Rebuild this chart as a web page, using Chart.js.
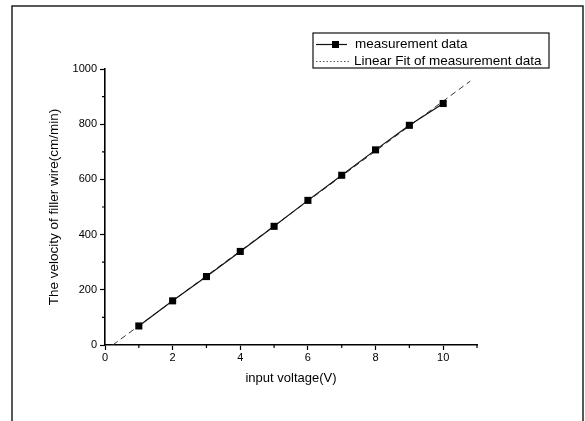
<!DOCTYPE html>
<html>
<head>
<meta charset="utf-8">
<script src="https://cdn.jsdelivr.net/npm/chart.js@4/dist/chart.umd.min.js"></script>
<style>
  html, body { margin: 0; padding: 0; background: #fff; }
  #wrap { width: 585px; height: 421px; }
</style>
</head>
<body>
<div id="wrap"><canvas id="chart" width="585" height="421"></canvas></div>
<script>
const voltage = [1, 2, 3, 4, 5, 6, 7, 8, 9, 10]
const velocity = [69, 160, 248, 339, 430, 524, 615, 707, 796, 875]

// end points of the fitted line
const fitX = [0.23, 10.8]
const fitY = [0, 956]

const xMinorTicks = [1, 3, 5, 7, 9, 11]
const yMinorTicks = [100, 300, 500, 700, 900]

const FONT = '"Liberation Sans", Arial, sans-serif'

const framePlugin = {
  id: 'frame',
  afterDraw(chart) {
    const ctx = chart.ctx
    ctx.save()
    ctx.strokeStyle = '#222'
    ctx.lineWidth = 1.5
    ctx.beginPath()
    ctx.moveTo(12, 421)
    ctx.lineTo(12, 6)
    ctx.lineTo(583, 6)
    ctx.lineTo(583, 421)
    ctx.stroke()
    ctx.restore()
  }
}

const minorTicksPlugin = {
  id: 'minorTicks',
  afterDraw(chart) {
    const ctx = chart.ctx
    const x = chart.scales.x
    const y = chart.scales.y
    ctx.save()
    ctx.strokeStyle = '#000'
    ctx.lineWidth = 1.2
    ctx.beginPath()
    xMinorTicks.forEach((v) => {
      const px = x.getPixelForValue(v)
      ctx.moveTo(px, y.bottom)
      ctx.lineTo(px, y.bottom + 3)
    })
    yMinorTicks.forEach((v) => {
      const py = y.getPixelForValue(v)
      ctx.moveTo(x.left, py)
      ctx.lineTo(x.left - 3, py)
    })
    ctx.stroke()
    ctx.restore()
  }
}

const legendPlugin = {
  id: 'boxLegend',
  afterDraw(chart) {
    const ctx = chart.ctx
    const sets = chart.data.datasets
    const left = 313, top = 33, right = 549, bottom = 68
    ctx.save()
    ctx.fillStyle = '#fff'
    ctx.fillRect(left, top, right - left, bottom - top)
    ctx.strokeStyle = '#111'
    ctx.lineWidth = 1.2
    ctx.strokeRect(left, top, right - left, bottom - top)

    ctx.font = '13.5px ' + FONT
    ctx.fillStyle = '#000'
    ctx.textBaseline = 'middle'

    // row 1: measurement data
    let rowY = 44.5
    ctx.beginPath()
    ctx.lineWidth = 1.2
    ctx.moveTo(316, rowY)
    ctx.lineTo(347, rowY)
    ctx.stroke()
    ctx.fillRect(332, rowY - 3.5, 7, 7)
    ctx.fillText(sets[0].label, 355, rowY)

    // row 2: linear fit
    rowY = 61.5
    ctx.beginPath()
    ctx.strokeStyle = '#555'
    ctx.lineWidth = 1
    ctx.setLineDash([1.5, 2])
    ctx.moveTo(316, rowY)
    ctx.lineTo(351, rowY)
    ctx.stroke()
    ctx.setLineDash([])
    ctx.fillText(sets[1].label, 354, rowY)
    ctx.restore()
  }
}

new Chart(document.getElementById('chart'), {
  type: 'scatter',
  data: {
    datasets: [
      {
        label: 'measurement data',
        data: voltage.map((v, i) => ({ x: v, y: velocity[i] })),
        showLine: true,
        borderColor: '#111',
        borderWidth: 1.2,
        backgroundColor: '#000',
        pointStyle: 'rect',
        pointRadius: 5,
        pointBorderWidth: 0
      },
      {
        label: 'Linear Fit of measurement data',
        data: fitX.map((v, i) => ({ x: v, y: fitY[i] })),
        showLine: true,
        borderColor: '#333',
        borderWidth: 1,
        borderDash: [6, 4],
        pointRadius: 0
      }
    ]
  },
  options: {
    responsive: false,
    animation: false,
    events: [],
    layout: {
      padding: { left: 0, top: 69, right: 108, bottom: 0 }
    },
    plugins: {
      legend: { display: false },
      tooltip: { enabled: false }
    },
    scales: {
      x: {
        type: 'linear',
        min: 0,
        max: 11,
        afterFit: (scale) => { scale.height = 76 },
        afterBuildTicks: (scale) => {
          scale.ticks = scale.ticks.filter((t) => t.value % 2 === 0)
        },
        ticks: {
          stepSize: 2,
          color: '#000',
          padding: 1,
          maxRotation: 0,
          font: { family: FONT, size: 11 },
          callback: (v) => String(v)
        },
        grid: {
          drawOnChartArea: false,
          color: '#000',
          tickLength: 5,
          tickWidth: 1.2
        },
        border: { display: true, color: '#000', width: 1.6 },
        title: {
          display: true,
          text: 'input voltage(V)',
          color: '#000',
          font: { family: FONT, size: 13 },
          padding: { top: 0, bottom: 35 }
        }
      },
      y: {
        type: 'linear',
        min: 0,
        max: 1000,
        afterFit: (scale) => { scale.width = 105 },
        ticks: {
          stepSize: 200,
          color: '#000',
          padding: 3,
          font: { family: FONT, size: 11 },
          callback: (v) => String(v)
        },
        grid: {
          drawOnChartArea: false,
          color: '#000',
          tickLength: 5,
          tickWidth: 1.2
        },
        border: { display: true, color: '#000', width: 1.6 },
        title: {
          display: true,
          text: 'The velocity of filler wire(cm/min)',
          color: '#000',
          font: { family: FONT, size: 13.5 },
          padding: { top: 46, bottom: 0 }
        }
      }
    }
  },
  plugins: [framePlugin, minorTicksPlugin, legendPlugin]
})
</script>
</body>
</html>
